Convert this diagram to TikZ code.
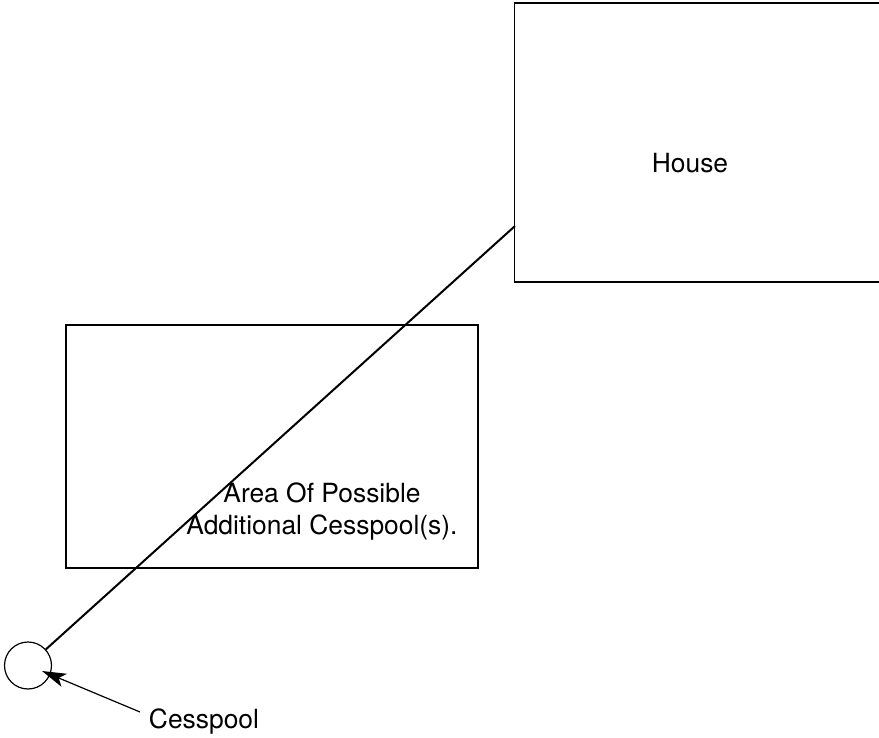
\documentclass[tikz,border=0pt]{standalone}
\usepackage{fontspec}
\setmainfont{TeX Gyre Heros}
\usetikzlibrary{arrows.meta}

\begin{document}
\begin{tikzpicture}[x=0.5pt,y=-0.5pt,>={Stealth[length=12pt,width=7pt,inset=3pt]},line width=0.6pt,
        every node/.style={font=\fontsize{13.2}{16}\selectfont},
        plot/.style={draw,rectangle,inner sep=0pt}]
    \useasboundingbox (0,0) rectangle (879,738);

    \node[plot,minimum width=186pt,minimum height=139.5pt] (house) at (700.5,142.5) {};
    \node (houselbl) at (690,163) {House};
    \node[plot,minimum width=206pt,minimum height=121.5pt] (area) at (272,446.5) {};
    \node[align=center] (arealbl) at (322,512) {Area Of Possible\\Additional Cesspool(s).};
    \node[draw,circle,minimum size=23.5pt,inner sep=0pt] (pool) at (28,665.5) {};
    \node (poollbl) at (204,722) {Cesspool};

    \coordinate (inlet) at (515,226);
    \coordinate (tail) at (140,712);
    \coordinate (tip) at (42,671);

    \path (pool) edge[line width=1pt] (inlet)
        (tail) edge[->] (tip);

\end{tikzpicture}
\end{document}
